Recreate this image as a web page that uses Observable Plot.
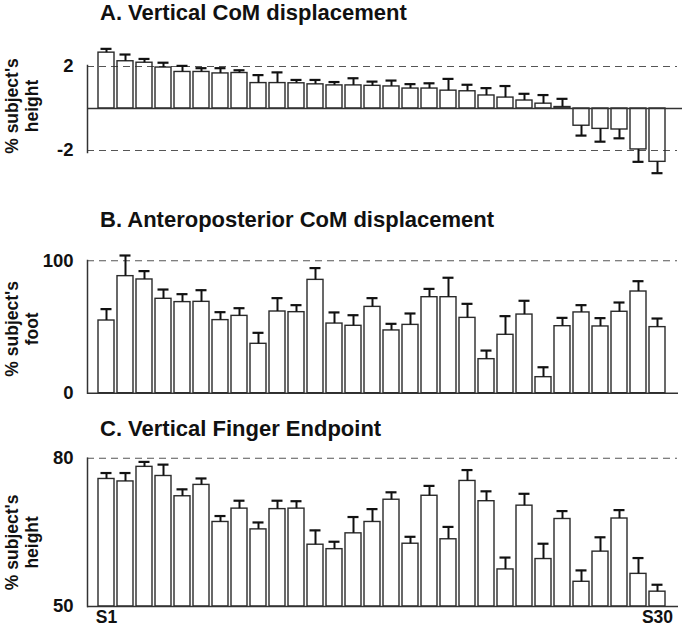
<!DOCTYPE html>
<html><head><meta charset="utf-8">
<script src="https://cdn.jsdelivr.net/npm/d3@7"></script>
<script src="https://cdn.jsdelivr.net/npm/@observablehq/plot@0.6"></script>
<style>
body{margin:0;background:#fff;width:685px;height:627px;overflow:hidden;font-family:"Liberation Sans",Arial,sans-serif;}
.t{font-weight:bold;font-size:22px;padding-left:100px;white-space:nowrap;color:#111;}
svg{display:block}
</style></head><body><div id="c"></div>
<script>
const subjects = ["S1","S2","S3","S4","S5","S6","S7","S8","S9","S10","S11","S12","S13","S14","S15",
  "S16","S17","S18","S19","S20","S21","S22","S23","S24","S25","S26","S27","S28","S29","S30"];
const panelTitles = ["A. Vertical CoM displacement", "B. Anteroposterior CoM displacement", "C. Vertical Finger Endpoint"];
const yLabels = ["% subject's\nheight", "% subject's\nfoot", "% subject's\nheight"];
const xTickLabels = ["S1", "S30"];

// A. Vertical CoM displacement (% subject's height)
const vertCoM = [2.66,2.25,2.18,1.95,1.74,1.74,1.67,1.69,1.21,1.21,1.20,1.15,1.10,1.10,1.08,1.05,0.95,0.95,0.85,0.82,0.62,0.52,0.38,0.23,0.07,-0.82,-0.97,-1.00,-1.95,-2.54];
const vertCoMSE = [0.18,0.32,0.18,0.23,0.29,0.18,0.25,0.13,0.38,0.51,0.16,0.21,0.16,0.34,0.20,0.28,0.21,0.25,0.56,0.31,0.35,0.55,0.32,0.41,0.39,0.47,0.61,0.42,0.59,0.54];
const vertCoMTicks = [-2, 2];

// B. Anteroposterior CoM displacement (% subject's foot)
const apCoM = [54.9,88.4,85.9,71.3,68.8,69.0,55.2,58.4,37.3,61.7,61.2,85.6,52.6,50.9,65.2,47.4,51.6,72.5,72.5,56.9,25.7,44.1,59.4,12.1,50.6,61.0,50.4,61.5,76.8,49.9];
const apCoMSE = [8.6,15.6,6.3,7.0,6.0,8.8,6.0,5.8,8.3,10.1,5.3,8.9,8.4,8.0,6.6,5.0,8.6,6.3,14.7,10.6,6.5,14.1,10.4,7.5,6.3,5.5,6.3,7.0,7.8,6.5];
const apCoMTicks = [0, 100];

// C. Vertical Finger Endpoint (% subject's height)
const finger = [75.8,75.3,78.25,76.4,72.3,74.6,67.1,69.8,65.6,69.7,69.8,62.5,61.6,64.8,67.1,71.6,62.7,72.4,63.6,75.4,71.3,57.5,70.4,59.6,67.7,55.0,61.1,67.8,56.6,53.0];
const fingerSE = [1.2,1.7,1.0,2.3,1.4,1.3,1.2,1.6,1.4,1.7,1.5,2.9,1.5,3.3,2.6,1.5,1.4,2.0,2.5,2.2,2.0,2.4,2.4,3.1,1.6,2.3,2.9,1.7,3.2,1.4];
const fingerTicks = [50, 80];

const root = document.getElementById("c");

function panel({title, vals, se, base, dashes, ticks, label, domain, range, height, mt, mb, mr, dashInset, labelDy, showX}) {
  const t = document.createElement("div");
  t.className = "t";
  t.style.height = t.style.lineHeight = (title.h) + "px";
  t.textContent = title.text;
  root.appendChild(t);
  const rows = subjects.map((s, i) => ({s, v: vals[i], se: se[i]}));
  const end = d => d.v >= base ? d.v + d.se : d.v - d.se;
  const marks = [
    Plot.ruleY(dashes, {stroke: "#555", strokeWidth: 1.1, strokeDasharray: "7,5", insetRight: dashInset}),
    Plot.barY(rows, {x: "s", y1: base, y2: "v", fill: "none", stroke: "#2a2a2a", strokeWidth: 1.4}),
    Plot.ruleX(rows, {x: "s", y1: "v", y2: end, stroke: "#111", strokeWidth: 2}),
    Plot.tickY(rows, {x: "s", y: end, stroke: "#111", strokeWidth: 2.2, inset: 2.5}),
    Plot.ruleY([base], {stroke: "#333", strokeWidth: 1.5}),
    Plot.frame({anchor: "left", stroke: "#333", strokeWidth: 1.5}),
    Plot.axisY({ticks, tickSize: 0, tickPadding: 14, label: null, tickFormat: d => String(d), fill: "#111"}),
    Plot.text([label], {frameAnchor: "left", rotate: -90, dx: -66, dy: labelDy, fontSize: 17.5, lineHeight: 1.12, textAnchor: "middle", fill: "#111"})
  ];
  if (showX) marks.push(Plot.axisX({ticks: xTickLabels, tickSize: 0, tickPadding: 4, fontSize: 17.5, label: null, fill: "#111"}));
  const p = Plot.plot({
    width: 685, height, marginLeft: 87, marginRight: mr, marginTop: mt, marginBottom: mb,
    style: {fontFamily: "'Liberation Sans', Arial, sans-serif", fontSize: "18.5px", fontWeight: "bold", background: "white", overflow: "visible"},
    x: {domain: subjects, range: [91.3, 672.2], paddingInner: 0.17, paddingOuter: 0.085, axis: showX ? undefined : null},
    y: {domain, range},
    marks
  });
  root.appendChild(p);
}

panel({title: {text: panelTitles[0], h: 25}, vals: vertCoM, se: vertCoMSE, base: 0, dashes: [-2, 2], ticks: vertCoMTicks,
  label: yLabels[0], domain: [-2, 2], range: [125, 41], height: 182, mt: 40, mb: 55, mr: 3, dashInset: 5, labelDy: -3, showX: false});
panel({title: {text: panelTitles[1], h: 26}, vals: apCoM, se: apCoMSE, base: 0, dashes: [100], ticks: apCoMTicks,
  label: yLabels[1], domain: [0, 100], range: [159.7, 27.3], height: 183, mt: 27, mb: 23.3, mr: 7, dashInset: 1, labelDy: 2, showX: false});
panel({title: {text: panelTitles[2], h: 26}, vals: finger, se: fingerSE, base: 50, dashes: [80], ticks: fingerTicks,
  label: yLabels[2], domain: [50, 80], range: [164, 15.7], height: 185, mt: 15.7, mb: 21, mr: 7, dashInset: 1, labelDy: 10, showX: true});
</script>
</body></html>
